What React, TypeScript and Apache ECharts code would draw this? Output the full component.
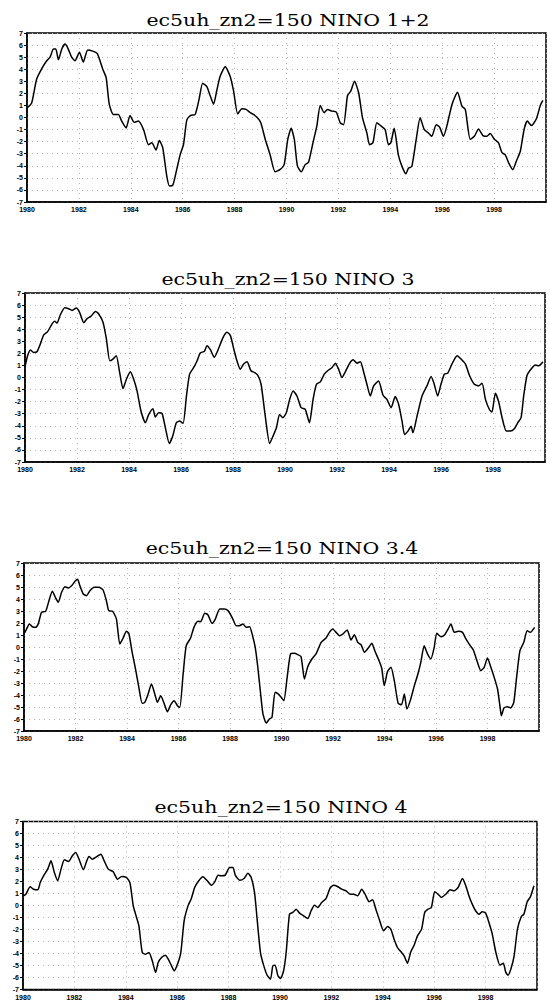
import React, { useEffect, useRef } from "react";
import * as echarts from "echarts";

const titles = ["ec5uh_zn2=150 NINO 1+2", "ec5uh_zn2=150 NINO 3", "ec5uh_zn2=150 NINO 3.4", "ec5uh_zn2=150 NINO 4"];
const xTicks = [1980, 1982, 1984, 1986, 1988, 1990, 1992, 1994, 1996, 1998];
const yTicks = [-7, -6, -5, -4, -3, -2, -1, 0, 1, 2, 3, 4, 5, 6, 7];

const years12 = [1980.00,1980.18,1980.37,1980.57,1980.76,1980.89,1981.02,1981.11,1981.21,1981.34,1981.47,1981.59,1981.72,1981.85,1982.02,1982.17,1982.34,1982.53,1982.71,1982.92,1983.05,1983.17,1983.33,1983.52,1983.65,1983.82,1983.97,1984.13,1984.29,1984.49,1984.68,1984.81,1984.97,1985.10,1985.23,1985.39,1985.49,1985.62,1985.77,1985.90,1986.03,1986.16,1986.31,1986.48,1986.63,1986.77,1986.93,1987.06,1987.19,1987.31,1987.44,1987.64,1987.83,1987.96,1988.12,1988.28,1988.44,1988.60,1988.73,1988.88,1989.01,1989.18,1989.37,1989.56,1989.76,1989.91,1990.05,1990.18,1990.30,1990.42,1990.57,1990.72,1990.85,1991.02,1991.17,1991.30,1991.45,1991.58,1991.75,1991.92,1992.07,1992.20,1992.35,1992.48,1992.62,1992.78,1992.93,1993.10,1993.20,1993.33,1993.48,1993.64,1993.80,1993.93,1994.02,1994.15,1994.31,1994.45,1994.60,1994.70,1994.83,1995.00,1995.15,1995.31,1995.48,1995.60,1995.77,1995.90,1996.05,1996.18,1996.38,1996.59,1996.76,1996.89,1997.08,1997.24,1997.40,1997.57,1997.72,1997.85,1998.01,1998.17,1998.30,1998.43,1998.57,1998.72,1998.86,1999.01,1999.16,1999.28,1999.44,1999.63,1999.78,1999.88];
const nino12 = [0.8,1.2,3.17,4.05,4.7,5.0,5.67,5.67,4.78,5.67,6.08,5.67,5.0,4.7,5.4,4.6,5.6,5.5,5.3,4.0,3.3,1.1,0.25,0.25,-0.3,-0.86,0.17,-0.4,-0.3,-1.0,-2.25,-2.1,-2.7,-1.9,-2.5,-4.9,-5.67,-5.6,-4.3,-3.1,-2.25,-0.2,0.17,0.25,1.5,2.83,2.55,1.8,1.1,2.2,3.4,4.2,3.4,2.2,0.3,0.72,0.67,0.4,0.25,-0.03,-0.44,-1.8,-3.1,-4.5,-4.3,-3.9,-1.8,-0.9,-1.8,-4.0,-4.5,-3.9,-3.7,-2.1,-0.7,1.0,0.4,0.67,0.53,0.45,-0.44,-0.6,1.8,2.2,3.0,2.05,-0.03,-1.3,-2.25,-2.1,-0.44,-0.7,-1.0,-2.25,-2.1,-0.9,-3.1,-4.05,-4.67,-4.2,-4.05,-1.8,-0.03,-1.0,-1.3,-1.56,-0.6,-0.8,-1.56,-0.7,1.1,2.1,0.94,0.67,-1.8,-1.56,-0.95,-1.5,-1.56,-1.33,-1.8,-2.1,-2.9,-3.1,-3.8,-4.33,-3.6,-2.8,-0.95,-0.3,-0.67,-0.1,1.0,1.42];

const years3 = [1980.01,1980.10,1980.21,1980.33,1980.46,1980.59,1980.72,1980.87,1981.04,1981.14,1981.23,1981.36,1981.53,1981.68,1981.81,1981.97,1982.10,1982.26,1982.38,1982.54,1982.71,1982.83,1983.00,1983.13,1983.26,1983.38,1983.51,1983.64,1983.77,1983.90,1984.05,1984.18,1984.31,1984.46,1984.63,1984.76,1984.92,1985.01,1985.14,1985.27,1985.40,1985.55,1985.68,1985.82,1985.95,1986.08,1986.21,1986.33,1986.49,1986.62,1986.74,1986.90,1987.00,1987.13,1987.28,1987.45,1987.62,1987.77,1987.90,1988.03,1988.15,1988.28,1988.41,1988.54,1988.69,1988.82,1988.95,1989.08,1989.24,1989.41,1989.54,1989.67,1989.79,1989.92,1990.05,1990.18,1990.31,1990.46,1990.62,1990.78,1990.94,1991.08,1991.21,1991.36,1991.51,1991.64,1991.81,1991.94,1992.06,1992.19,1992.32,1992.49,1992.62,1992.77,1992.90,1993.03,1993.15,1993.28,1993.41,1993.60,1993.77,1993.92,1994.08,1994.24,1994.37,1994.50,1994.60,1994.73,1994.85,1994.92,1995.08,1995.27,1995.46,1995.62,1995.74,1995.87,1996.00,1996.13,1996.26,1996.42,1996.62,1996.77,1996.94,1997.10,1997.28,1997.45,1997.58,1997.71,1997.87,1997.96,1998.09,1998.22,1998.35,1998.51,1998.67,1998.82,1998.95,1999.08,1999.18,1999.31,1999.46,1999.63,1999.76,1999.92];
const nino3 = [0.97,1.8,2.28,2.08,2.14,2.78,3.53,3.8,4.44,4.67,4.5,5.2,5.78,5.7,5.56,5.75,5.4,4.53,4.86,5.08,5.47,5.28,4.58,3.2,1.39,1.53,1.8,0.42,-0.92,-0.14,0.47,-0.14,-1.11,-2.78,-3.75,-3.06,-2.58,-3.28,-2.92,-2.97,-4.17,-5.47,-4.86,-3.75,-3.6,-3.8,-1.53,0.28,0.83,1.39,2.03,2.17,2.64,2.31,1.67,2.42,3.33,3.75,3.47,2.36,1.39,0.69,1.11,1.31,0.56,0.42,0.19,-0.56,-3.19,-5.47,-4.86,-4.17,-3.06,-3.33,-2.92,-1.81,-1.11,-1.53,-2.5,-2.64,-3.75,-1.81,-0.56,-0.36,0.28,0.56,0.83,1.19,0.69,0,0.47,1.19,1.47,1.19,1.31,0.42,-0.56,-1.53,-0.69,-0.28,-1.47,-1.81,-2.5,-1.58,-2.22,-3.6,-4.72,-4.44,-4.03,-4.58,-3.19,-1.53,-0.69,0.08,-0.56,-1.53,-0.56,0.28,0.36,1.11,1.8,1.53,1.11,0.14,-0.56,-0.69,-0.47,-1.81,-2.69,-2.86,-1.31,-2.03,-3.33,-4.44,-4.44,-4.25,-3.75,-3.33,-1.53,0.19,0.69,1.03,0.97,1.31];

const years34 = [1980.01,1980.10,1980.21,1980.32,1980.45,1980.56,1980.68,1980.84,1980.97,1981.10,1981.23,1981.33,1981.46,1981.59,1981.72,1981.85,1981.98,1982.08,1982.17,1982.30,1982.43,1982.56,1982.73,1982.91,1983.07,1983.20,1983.29,1983.44,1983.59,1983.72,1983.85,1983.98,1984.07,1984.20,1984.33,1984.46,1984.59,1984.69,1984.82,1984.95,1985.08,1985.18,1985.31,1985.44,1985.57,1985.70,1985.83,1985.96,1986.05,1986.18,1986.30,1986.47,1986.60,1986.76,1986.86,1987.02,1987.14,1987.30,1987.43,1987.60,1987.77,1987.92,1988.08,1988.24,1988.37,1988.50,1988.63,1988.76,1988.89,1988.98,1989.08,1989.19,1989.28,1989.41,1989.53,1989.63,1989.75,1989.88,1989.99,1990.09,1990.22,1990.35,1990.50,1990.63,1990.76,1990.89,1991.02,1991.18,1991.34,1991.54,1991.73,1991.86,1991.99,1992.12,1992.25,1992.38,1992.55,1992.70,1992.83,1992.96,1993.09,1993.22,1993.37,1993.51,1993.63,1993.76,1993.89,1993.99,1994.12,1994.25,1994.38,1994.53,1994.66,1994.77,1994.87,1995.00,1995.16,1995.29,1995.41,1995.54,1995.67,1995.80,1995.93,1996.03,1996.19,1996.34,1996.47,1996.58,1996.71,1996.86,1997.03,1997.16,1997.33,1997.45,1997.61,1997.74,1997.87,1998.00,1998.13,1998.26,1998.39,1998.49,1998.54,1998.64,1998.77,1998.90,1999.02,1999.13,1999.26,1999.41,1999.54,1999.66,1999.83];
const nino34 = [1.14,1.5,1.92,1.69,1.64,1.97,2.89,2.97,3.86,4.64,4.08,3.72,4.56,5.03,4.92,5.11,5.47,5.64,5.11,4.42,4.28,4.69,4.97,4.97,4.75,3.86,3.03,2.97,2.33,0.25,0.75,1.31,1.14,-0.44,-1.83,-3.36,-4.69,-4.61,-3.92,-3.08,-3.92,-4.61,-4.06,-4.69,-5.39,-4.81,-4.47,-4.89,-5.03,-2.25,0.11,0.75,1.64,2.14,2.11,2.81,2.69,1.97,2.33,3.17,3.17,3.03,2.47,1.78,1.78,1.92,1.64,1.69,0.81,-0.03,-1.69,-3.92,-5.58,-6.33,-6.0,-5.86,-3.78,-3.92,-4.19,-4.47,-2.53,-0.58,-0.53,-0.64,-0.81,-2.67,-1.64,-1.0,-0.58,0.39,0.75,1.22,1.5,1.22,0.94,1.08,1.42,0.58,1.03,0.39,0.19,-0.44,-0.08,0.31,-0.36,-1.0,-1.75,-3.22,-2.03,-1.69,-2.81,-4.69,-4.81,-3.92,-5.17,-4.47,-3.22,-2.31,-1.28,0.11,-0.58,-1.0,-0.03,1.14,0.86,1.03,1.5,1.92,1.22,1.31,1.22,0.67,0.11,-0.25,-1.28,-1.97,-1.69,-0.92,-1.69,-2.53,-3.5,-5.03,-5.72,-5.08,-4.97,-5.08,-4.61,-2.53,-0.31,0.39,1.36,1.22,1.64];

const years4 = [1980.02,1980.11,1980.28,1980.41,1980.58,1980.67,1980.80,1980.96,1981.09,1981.22,1981.35,1981.48,1981.61,1981.77,1981.92,1982.05,1982.18,1982.35,1982.48,1982.57,1982.70,1982.87,1983.03,1983.16,1983.32,1983.51,1983.68,1983.84,1984.03,1984.16,1984.29,1984.38,1984.51,1984.64,1984.77,1984.90,1985.03,1985.16,1985.26,1985.39,1985.54,1985.65,1985.78,1985.88,1986.01,1986.14,1986.27,1986.42,1986.55,1986.68,1986.84,1987.00,1987.17,1987.33,1987.46,1987.59,1987.72,1987.87,1988.04,1988.17,1988.26,1988.43,1988.60,1988.75,1988.88,1989.01,1989.11,1989.24,1989.37,1989.50,1989.63,1989.72,1989.81,1989.92,1990.02,1990.14,1990.24,1990.37,1990.50,1990.63,1990.76,1990.92,1991.08,1991.21,1991.34,1991.47,1991.62,1991.79,1991.96,1992.09,1992.24,1992.40,1992.57,1992.74,1992.87,1993.02,1993.18,1993.31,1993.47,1993.60,1993.73,1993.86,1994.03,1994.19,1994.31,1994.44,1994.57,1994.73,1994.83,1994.96,1995.09,1995.22,1995.35,1995.51,1995.63,1995.76,1995.89,1996.02,1996.15,1996.28,1996.45,1996.62,1996.77,1996.93,1997.10,1997.23,1997.35,1997.48,1997.61,1997.74,1997.87,1998.00,1998.13,1998.26,1998.40,1998.56,1998.69,1998.78,1998.87,1998.98,1999.11,1999.24,1999.39,1999.49,1999.62,1999.75,1999.88];
const nino4 = [0.81,0.94,1.56,1.36,1.31,1.92,2.47,3.03,3.72,2.75,2.06,3.03,3.81,3.67,4.14,4.42,3.86,2.97,3.72,4.08,3.86,4.08,4.28,3.72,3.03,2.81,2.19,2.42,2.33,1.92,-0.03,-0.72,-1.69,-3.92,-4.06,-3.92,-4.61,-5.58,-4.75,-4.33,-4.14,-4.47,-5.03,-5.44,-4.89,-3.92,-1.28,-0.03,0.58,1.5,2.06,2.39,2.06,1.69,1.97,2.53,2.47,2.53,3.17,3.17,2.53,2.11,2.25,2.69,2.33,1.08,-1.14,-3.92,-5.03,-5.81,-6.14,-5.03,-4.97,-5.86,-6.08,-5.44,-3.92,-0.72,-0.58,-0.31,-0.64,-0.86,-1.08,-0.44,0.03,-0.17,0.25,0.58,1.5,1.69,1.58,1.36,1.22,0.94,0.94,0.81,1.36,0.94,0.31,0.47,-0.31,-1.14,-2.11,-1.75,-1.97,-2.81,-3.5,-3.92,-4.19,-4.81,-3.86,-3.31,-2.53,-1.97,-0.58,-0.31,-0.17,1.14,0.94,0.67,0.94,1.31,1.22,1.5,2.25,1.64,0.81,0.11,-0.44,-0.72,-0.53,-0.64,-1.42,-2.39,-3.92,-4.97,-4.81,-5.53,-5.81,-5.31,-4.19,-1.97,-0.92,-0.72,0.31,0.75,1.64];

const panelYears = [years12, years3, years34, years4];
const panelValues = [nino12, nino3, nino34, nino4];

const grids = [
  { left: 27, top: 33, width: 519, height: 169 },
  { left: 25, top: 293, width: 520, height: 169 },
  { left: 24, top: 563, width: 515, height: 168 },
  { left: 23, top: 821.5, width: 514, height: 168 },
];
const titlePos = [
  { x: 288, y: 20 },
  { x: 288, y: 279 },
  { x: 282, y: 548.5 },
  { x: 281, y: 807.5 },
];

export default function App() {
  const ref = useRef<HTMLDivElement>(null);
  useEffect(() => {
    if (!ref.current) return;
    const chart = echarts.init(ref.current, undefined, { renderer: "svg" });
    const labelFont = { fontFamily: "Liberation Sans", fontSize: 7, fontWeight: "bold" as const, color: "#000" };
    const dotted = { show: true, lineStyle: { color: "#b4b4b4", width: 1, type: [1, 4] as number[] } };
    chart.setOption({
      animation: false,
      backgroundColor: "#fff",
      grid: grids.map((g) => ({ ...g, show: true, borderColor: "#000", borderWidth: 1.5, backgroundColor: "transparent" })),
      xAxis: grids.map((_, i) => ({
        type: "value",
        gridIndex: i,
        min: 1980,
        max: 2000,
        interval: 2,
        axisLine: { show: true, onZero: false, lineStyle: { color: "#000", width: 1.5 } },
        axisTick: { show: false },
        axisLabel: { ...labelFont, margin: 4, showMaxLabel: false, formatter: (v: number) => (xTicks.includes(v) ? String(v) : "") },
        splitLine: dotted,
      })),
      yAxis: grids.map((_, i) => ({
        type: "value",
        gridIndex: i,
        min: -7,
        max: 7,
        interval: 1,
        axisLine: { show: true, onZero: false, lineStyle: { color: "#000", width: 1.5 } },
        axisTick: { show: true, length: 3, lineStyle: { color: "#000", width: 1 } },
        axisLabel: { ...labelFont, margin: 4, formatter: (v: number) => (yTicks.includes(v) ? String(v) : "") },
        splitLine: dotted,
      })),
      series: panelValues.map((vals, i) => ({
        type: "line",
        xAxisIndex: i,
        yAxisIndex: i,
        data: vals.map((v, k) => [panelYears[i][k], v]),
        showSymbol: false,
        smooth: 0.2,
        lineStyle: { color: "#000", width: 1.5 },
        silent: true,
      })),
      graphic: titles.map((t, i) => ({
        type: "text",
        x: titlePos[i].x,
        y: titlePos[i].y,
        scaleX: 1.28,
        style: {
          text: t,
          font: '16px "DejaVu Serif"',
          fill: "#000",
          align: "center",
          verticalAlign: "middle",
          textAlign: "center",
          textVerticalAlign: "middle",
        },
      })),
    });
    return () => chart.dispose();
  }, []);
  return <div ref={ref} style={{ position: "absolute", left: 0, top: 0, width: 547, height: 1005 }} />;
}
